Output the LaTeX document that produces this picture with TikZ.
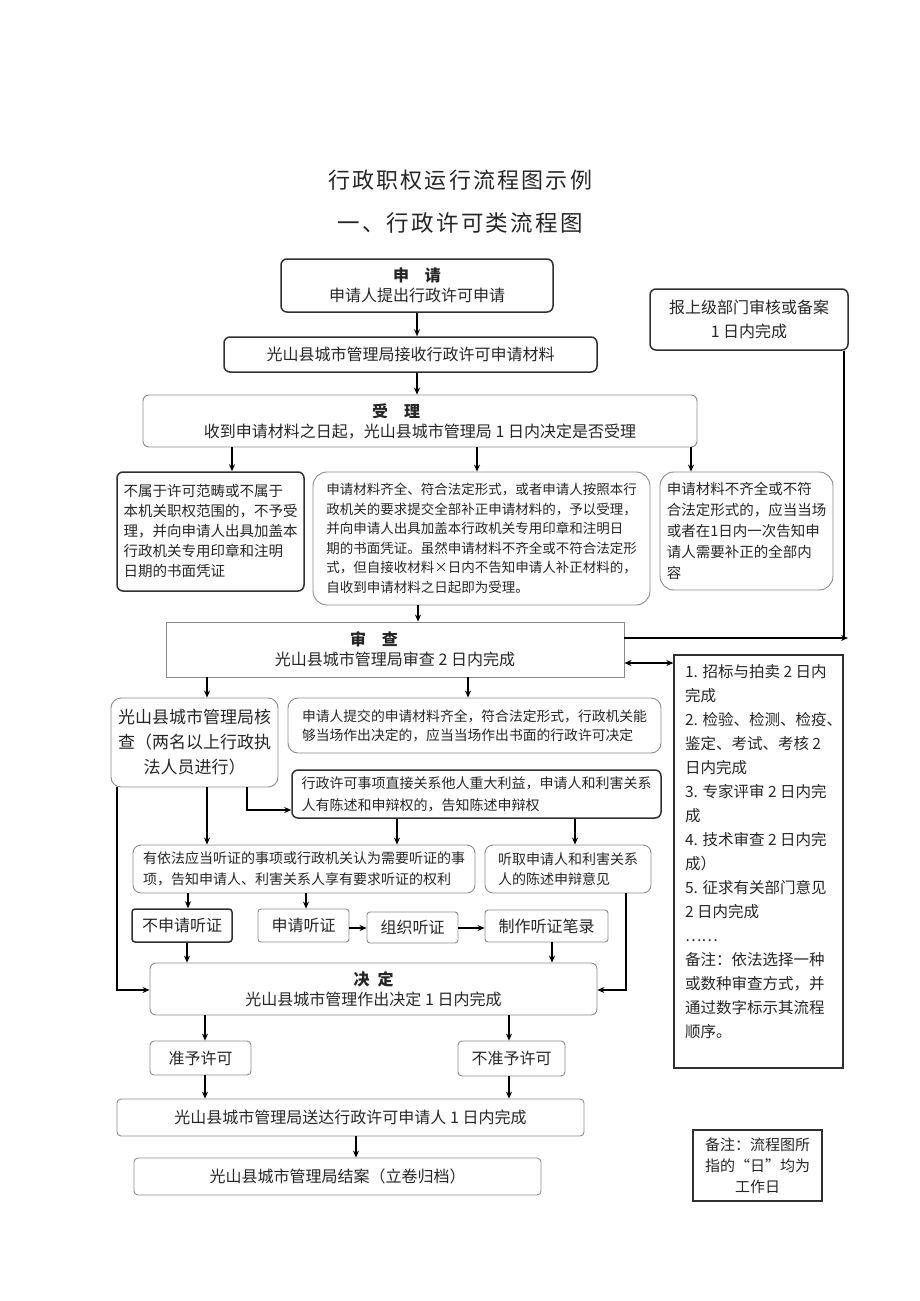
\documentclass[tikz,border=0pt]{standalone}
\usepackage{fontspec}
\setmainfont{Noto Sans CJK SC}
\newfontfamily\spaced[LetterSpace=10]{Noto Sans CJK SC}
\usetikzlibrary{arrows.meta}
\XeTeXlinebreaklocale "zh"
\newcommand\fsz[2]{\fontsize{#1pt}{#2pt}\selectfont}
\definecolor{txt}{HTML}{262626}
\definecolor{lgray}{HTML}{8A8A8A}
\definecolor{dgray}{HTML}{303030}
\begin{document}
\begin{tikzpicture}[x=1pt,y=-1pt,
    box/.style={draw=lgray,line width=0.9pt,rounded corners=6pt,align=center,inner sep=0pt,text=txt,font=\fsz{16}{20}},
    dbox/.style={box,draw=dgray,line width=1.5pt},
    sq/.style={sharp corners},
    sz/.style n args={2}{minimum width=#1pt,minimum height=#2pt},
    arr/.style={-{Stealth[length=7pt,width=6pt]},line width=1.2pt,draw=black}]
    \useasboundingbox (0,0) rectangle (920,1301);
    % titles
    \node[text=txt] (title) at (460,180) {\spaced\fsz{22}{26}行政职权运行流程图示例};
    \node[text=txt] (sub) at (460,223) {\spaced\fsz{22.5}{26}一、行政许可类流程图};
    % application and acceptance
    \node[dbox,sz={272}{53}] (apply) at (417,285.5) {{\bfseries 申\quad 请}\\申请人提出行政许可申请};
    \node[dbox,sz={373}{35}] (recv) at (410.5,354.5) {光山县城市管理局接收行政许可申请材料};
    \node[box,sz={554}{52}] (accept) at (420,421) {{\bfseries 受\quad 理}\hspace*{48pt}\\收到申请材料之日起，光山县城市管理局 1 日内决定是否受理};
    \node[dbox,sz={198}{61},font=\fsz{16}{24}] (report) at (749,319.5) {报上级部门审核或备案\\1 日内完成};
    \node[dbox,sz={187}{119},align=left,font=\fsz{14.5}{20}] (reject) at (210.5,531.5) {不属于许可范畴或不属于\\本机关职权范围的，不予受\\理，并向申请人出具加盖本\\行政机关专用印章和注明\\日期的书面凭证};
    \node[box,sz={337}{133},align=left,font=\fsz{13.5}{19.5},rounded corners=14pt] (acceptok) at (481.5,538.5) {申请材料齐全、符合法定形式，或者申请人按照本行\\政机关的要求提交全部补正申请材料的，予以受理，\\并向申请人出具加盖本行政机关专用印章和注明日\\期的书面凭证。虽然申请材料不齐全或不符合法定形\\式，但自接收材料×日内不告知申请人补正材料的，\\自收到申请材料之日起即为受理。};
    \node[box,sz={173}{118},align=left,font=\fsz{14.5}{21},rounded corners=14pt] (supplement) at (746.5,531) {申请材料不齐全或不符\\合法定形式的，应当当场\\或者在1日内一次告知申\\请人需要补正的全部内\\容};
    % review
    \node[box,sq,sz={458}{55}] (review) at (395,649.5) {{\bfseries 审\quad 查}\hspace*{42pt}\\光山县城市管理局审查 2 日内完成};
    \node[dbox,sq,sz={169}{413},line width=1.3pt] (methods) at (758.5,861.5) {\parbox[c][395pt][t]{169pt}{\leftskip=11pt\rightskip=0pt plus 1fil\fsz{15.5}{24}1. 招标与拍卖 2 日内\\完成\\2. 检验、检测、检疫、\\鉴定、考试、考核 2\\日内完成\\3. 专家评审 2 日内完\\成\\4. 技术审查 2 日内完\\成）\\5. 征求有关部门意见\\2 日内完成\\……\\备注：依法选择一种\\或数种审查方式，并\\通过数字标示其流程\\顺序。}};
    \node[box,sz={167}{89},font=\fsz{17}{25},rounded corners=10pt] (verify) at (194.5,742.5) {光山县城市管理局核\\查（两名以上行政执\\法人员进行）};
    \node[box,sz={373}{55},align=left,font=\fsz{13.8}{19},rounded corners=10pt] (onsite) at (474.5,725.5) {申请人提交的申请材料齐全，符合法定形式，行政机关能\\够当场作出决定的，应当当场作出书面的行政许可决定};
    \node[dbox,sz={369}{48},align=left,font=\fsz{14}{22}] (defend) at (476.5,794) {行政许可事项直接关系他人重大利益，申请人和利害关系\\人有陈述和申辩权的，告知陈述申辩权};
    % hearing
    \node[box,sz={342}{48},align=left,font=\fsz{14}{21},rounded corners=8pt] (hearing) at (304,869) {有依法应当听证的事项或行政机关认为需要听证的事\\项，告知申请人、利害关系人享有要求听证的权利};
    \node[box,sz={166}{48},align=left,font=\fsz{14}{20},rounded corners=8pt] (listen) at (568,869) {听取申请人和利害关系\\人的陈述申辩意见\hspace*{28pt}};
    \node[dbox,sz={100}{33},rounded corners=3pt] (nohear) at (182,925.5) {不申请听证};
    \node[box,sz={91}{33},rounded corners=3pt] (reqhear) at (303.5,925.5) {申请听证};
    \node[box,sz={91}{31},rounded corners=3pt] (orghear) at (412.5,927.5) {组织听证};
    \node[box,sz={123}{32},rounded corners=3pt] (record) at (546.5,926) {制作听证笔录};
    % decision
    \node[box,sz={447}{52}] (decide) at (373.5,989) {{\bfseries 决\enspace 定}\\光山县城市管理作出决定 1 日内完成};
    \node[box,sz={101}{34},rounded corners=4pt] (grant) at (200.5,1058) {准予许可};
    \node[box,sz={107}{35},rounded corners=4pt] (deny) at (511.5,1058.5) {不准予许可};
    \node[box,sz={467}{37},rounded corners=4pt] (deliver) at (350.5,1117.5) {光山县城市管理局送达行政许可申请人 1 日内完成};
    \node[box,sz={407}{37},rounded corners=4pt] (close) at (337.5,1176.5) {光山县城市管理局结案（立卷归档）};
    \node[dbox,sq,sz={129}{71},font=\fsz{15}{21},line width=1.3pt] (note) at (757.5,1165.5) {备注：流程图所\\指的“日”均为\\工作日};
    % connectors
    \draw[arr] (apply) -- (apply |- recv.north);
    \draw[arr] (recv.south -| 417,0) -- (accept.north -| 417,0);
    \draw[arr] (accept.south -| 232,0) -- (reject.north -| 232,0);
    \draw[arr] (accept.south -| 477,0) -- (acceptok.north -| 477,0);
    \draw[arr] (accept.south -| 691,0) -- (supplement.north -| 691,0);
    \draw[arr] (acceptok.south -| 418,0) -- (review.north -| 418,0);
    \coordinate (up) at (844,638);
    \draw[line width=1.2pt] (report.south -| up) -- (up);
    \draw[arr] (review.east |- up) -- ([xshift=4pt]up);
    \draw[arr,{Stealth[length=7pt,width=6pt]}-{Stealth[length=7pt,width=6pt]}] (review.east |- 0,663) -- (methods.west |- 0,663);
    \draw[arr] (review.south -| 207,0) -- (verify.north -| 207,0);
    \draw[arr] (review.south -| 468,0) -- (onsite.north -| 468,0);
    \draw[arr] (verify.south -| 207,0) -- (hearing.north -| 207,0);
    \draw[arr] (verify.south -| 247,0) |- (defend.west |- 0,810);
    \draw[arr] (verify.south -| 117,0) |- (decide.west |- 0,990);
    \draw[arr] (defend.south -| 397,0) -- (hearing.north -| 397,0);
    \draw[arr] (defend.south -| 575,0) -- (listen.north -| 575,0);
    \draw[arr] (hearing.south -| 188,0) -- (nohear.north -| 188,0);
    \draw[arr] (hearing.south -| 306,0) -- (reqhear.north -| 306,0);
    \draw[arr] (reqhear.east |- 0,928) -- (orghear.west |- 0,928);
    \draw[arr] (orghear.east |- 0,928) -- (record.west |- 0,928);
    \draw[arr] (nohear.south -| 187,0) -- (decide.north -| 187,0);
    \draw[arr] (record.south -| 552,0) -- (decide.north -| 552,0);
    \draw[arr] (listen.south -| 626,0) |- (decide.east |- 0,990);
    \draw[arr] (decide.south -| 205,0) -- (grant.north -| 205,0);
    \draw[arr] (decide.south -| 509,0) -- (deny.north -| 509,0);
    \draw[arr] (grant.south -| 205,0) -- (deliver.north -| 205,0);
    \draw[arr] (deny.south -| 509,0) -- (deliver.north -| 509,0);
    \draw[arr] (deliver.south -| 356,0) -- (close.north -| 356,0);
\end{tikzpicture}
\end{document}
